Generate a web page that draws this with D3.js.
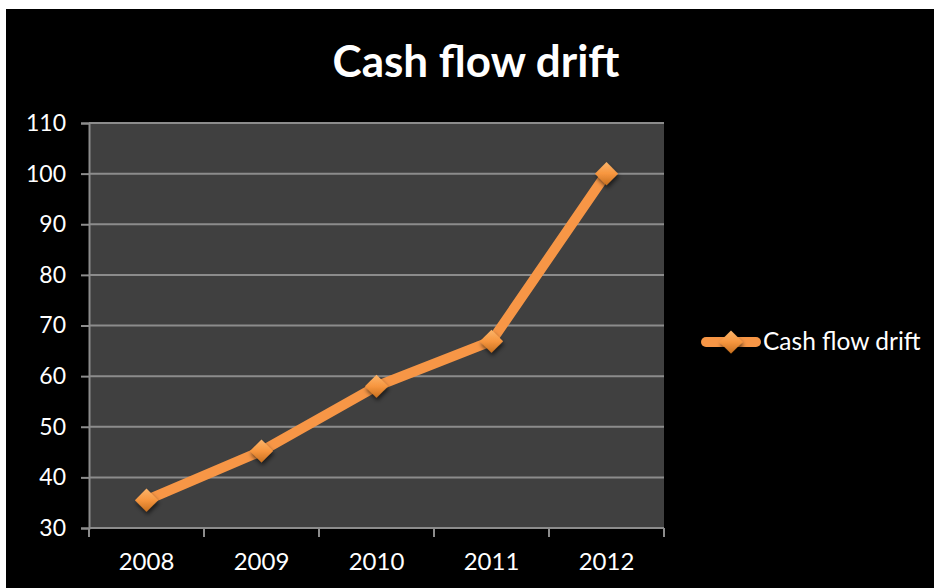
<!DOCTYPE html>
<html>
<head>
<meta charset="utf-8">
<script src="https://cdn.jsdelivr.net/npm/d3@7"></script>
<style>
  html, body { margin: 0; padding: 0; background: #000; }
  svg { display: block; }
</style>
</head>
<body>
<svg id="chart" width="934" height="588"></svg>
<script>
const years = ["2008", "2009", "2010", "2011", "2012"];
const cashFlowDrift = [35.5, 45.2, 58.0, 66.9, 100];
const yTicks = [30, 40, 50, 60, 70, 80, 90, 100, 110];
const seriesName = "Cash flow drift";
const chartTitle = "Cash flow drift";

const svg = d3.select("#chart");
const W = 934, H = 588;
const plot = { left: 89, right: 664, top: 123, bottom: 528 };
const font = "Lato, 'Open Sans', sans-serif";

// frame: white edges on top and left, black canvas
svg.append("rect").attr("width", W).attr("height", H).attr("fill", "#fff");
svg.append("rect").attr("x", 6).attr("y", 9).attr("width", W - 6).attr("height", H - 9).attr("fill", "#000");

const x = d3.scaleBand().domain(years).range([plot.left, plot.right]);
const y = d3.scaleLinear().domain([30, 110]).range([plot.bottom, plot.top]);

const defs = svg.append("defs");
const grad = defs.append("linearGradient").attr("id", "mk").attr("x1", 0).attr("y1", 0).attr("x2", 0).attr("y2", 1);
grad.append("stop").attr("offset", "0%").attr("stop-color", "#fbb46a");
grad.append("stop").attr("offset", "50%").attr("stop-color", "#f7963f");
grad.append("stop").attr("offset", "100%").attr("stop-color", "#c8701f");
const sh = defs.append("filter").attr("id", "shadow").attr("x", "-50%").attr("y", "-50%").attr("width", "200%").attr("height", "200%");
sh.append("feDropShadow").attr("dx", 1).attr("dy", 3).attr("stdDeviation", 2).attr("flood-color", "#000").attr("flood-opacity", 0.6);

// plot area
svg.append("rect")
  .attr("x", plot.left).attr("y", plot.top)
  .attr("width", plot.right - plot.left).attr("height", plot.bottom - plot.top)
  .attr("fill", "#404040");

// horizontal gridlines
svg.append("g").selectAll("line").data(yTicks.slice(1)).join("line")
  .attr("x1", plot.left).attr("x2", plot.right)
  .attr("y1", d => y(d)).attr("y2", d => y(d))
  .attr("stroke", "#8c8c8c").attr("stroke-width", 2);

// y axis
const yAxis = svg.append("g").attr("transform", `translate(${plot.left},0)`)
  .call(d3.axisLeft(y).tickValues(yTicks).tickSize(8).tickPadding(15));
yAxis.select(".domain").attr("stroke", "#8c8c8c").attr("stroke-width", 2);
yAxis.selectAll(".tick line").attr("stroke", "#8c8c8c").attr("stroke-width", 2);
yAxis.selectAll("text").attr("fill", "#fff").attr("font-size", 23).attr("font-family", font);

// x axis with ticks at band boundaries
const xAxisG = svg.append("g").attr("transform", `translate(0,${plot.bottom})`);
xAxisG.append("line").attr("x1", plot.left).attr("x2", plot.right)
  .attr("stroke", "#8c8c8c").attr("stroke-width", 2);
const bounds = years.map(d => x(d)).concat([x(years[years.length - 1]) + x.bandwidth()]);
xAxisG.selectAll("line.tk").data(bounds).join("line").attr("class", "tk")
  .attr("x1", d => d).attr("x2", d => d).attr("y1", 0).attr("y2", 9)
  .attr("stroke", "#8c8c8c").attr("stroke-width", 2);
xAxisG.selectAll("text").data(years).join("text")
  .attr("x", d => x(d) + x.bandwidth() / 2).attr("y", 42)
  .attr("text-anchor", "middle").attr("fill", "#fff")
  .attr("font-size", 24).attr("font-family", font).text(d => d);

// series line
const cx = d => x(d) + x.bandwidth() / 2;
const line = d3.line().x((d, i) => cx(years[i])).y(d => y(d));
svg.append("path").datum(cashFlowDrift)
  .attr("d", line).attr("fill", "none")
  .attr("stroke", "#f79646").attr("stroke-width", 10)
  .attr("stroke-linejoin", "round").attr("stroke-linecap", "round");

// diamond markers
const diamond = d3.symbol().type(d3.symbolDiamond2).size(340);
svg.append("g").selectAll("path").data(cashFlowDrift).join("path")
  .attr("d", diamond)
  .attr("transform", (d, i) => `translate(${cx(years[i])},${y(d)})`)
  .attr("fill", "url(#mk)").attr("filter", "url(#shadow)");

// title
svg.append("text").attr("x", 476).attr("y", 77).attr("text-anchor", "middle")
  .attr("fill", "#fff").attr("font-size", 44).attr("font-weight", "bold")
  .attr("font-family", font).text(chartTitle);

// legend
const lg = svg.append("g").attr("transform", "translate(0,342)");
lg.append("line").attr("x1", 706).attr("x2", 756).attr("y1", 0).attr("y2", 0)
  .attr("stroke", "#f79646").attr("stroke-width", 10).attr("stroke-linecap", "round");
lg.append("path").attr("d", diamond).attr("transform", "translate(731,0)")
  .attr("fill", "url(#mk)").attr("filter", "url(#shadow)");
lg.append("text").attr("x", 763).attr("y", 8).attr("fill", "#fff")
  .attr("font-size", 24.5).attr("font-family", font).text(seriesName);
</script>
</body>
</html>
